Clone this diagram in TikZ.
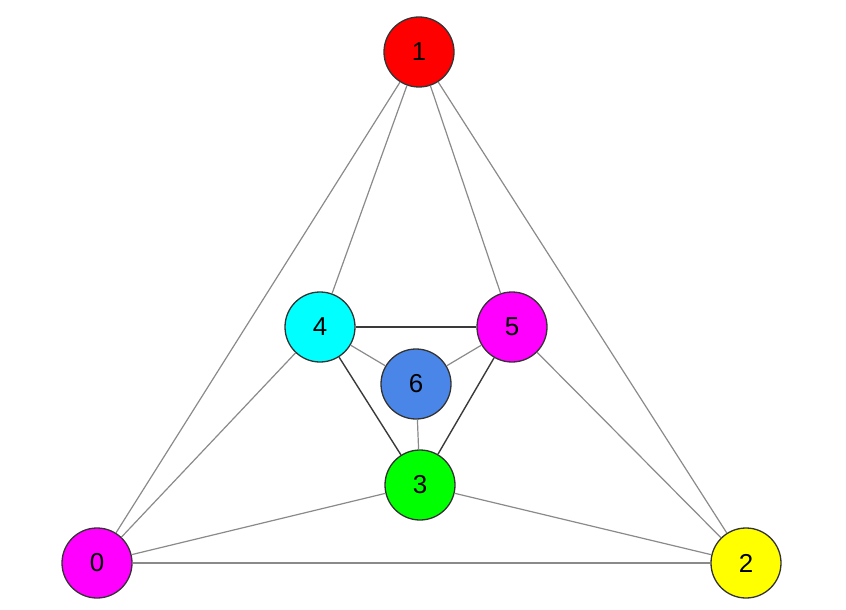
\documentclass[tikz,border=0pt]{standalone}
\usepackage{fontspec}
\setmainfont{Liberation Sans}
\definecolor{nblue}{HTML}{4A86E8}
\definecolor{ngreen}{HTML}{00FF00}
\definecolor{nred}{HTML}{FF0000}
\definecolor{ncyan}{HTML}{00FFFF}
\definecolor{nmagenta}{HTML}{FF00FF}
\definecolor{nyellow}{HTML}{FFFF00}
\definecolor{edgegray}{HTML}{8A8A8A}
\definecolor{edgedark}{HTML}{3A3A3A}
\definecolor{border}{HTML}{333333}
\begin{document}
\begin{tikzpicture}[x=1bp,y=-1bp,
  vert/.style={circle,draw=border,line width=1.3bp,minimum size=70bp,inner sep=0pt,font=\fontsize{26}{26}\selectfont},
  light/.style={draw=edgegray,line width=1.2bp},
  dark/.style={draw=edgedark,line width=1.4bp}]
\useasboundingbox (0,0) rectangle (846,610);
\node[vert,fill=nred] (n1) at (419,52) {1};
\node[vert,fill=ncyan] (n4) at (320,327) {4};
\node[vert,fill=nmagenta] (n5) at (512,327) {5};
\node[vert,fill=nblue] (n6) at (416,384) {6};
\node[vert,fill=ngreen] (n3) at (420,485) {3};
\node[vert,fill=nmagenta] (n0) at (97,563) {0};
\node[vert,fill=nyellow] (n2) at (746,563) {2};
\path[light] (n1) -- (n0);
\path[light] (n1) -- (n2);
\path[light] (n1) -- (n4);
\path[light] (n1) -- (n5);
\path[light] (n0) -- (n4);
\path[light] (n0) -- (n3);
\path[light] (n0) -- (n2);
\path[light] (n2) -- (n5);
\path[light] (n2) -- (n3);
\path[light] (n4) -- (n6);
\path[light] (n5) -- (n6);
\path[light] (n6) -- (n3);
\path[dark] (n4) -- (n5);
\path[dark] (n4) -- (n3);
\path[dark] (n5) -- (n3);
\end{tikzpicture}
\end{document}
